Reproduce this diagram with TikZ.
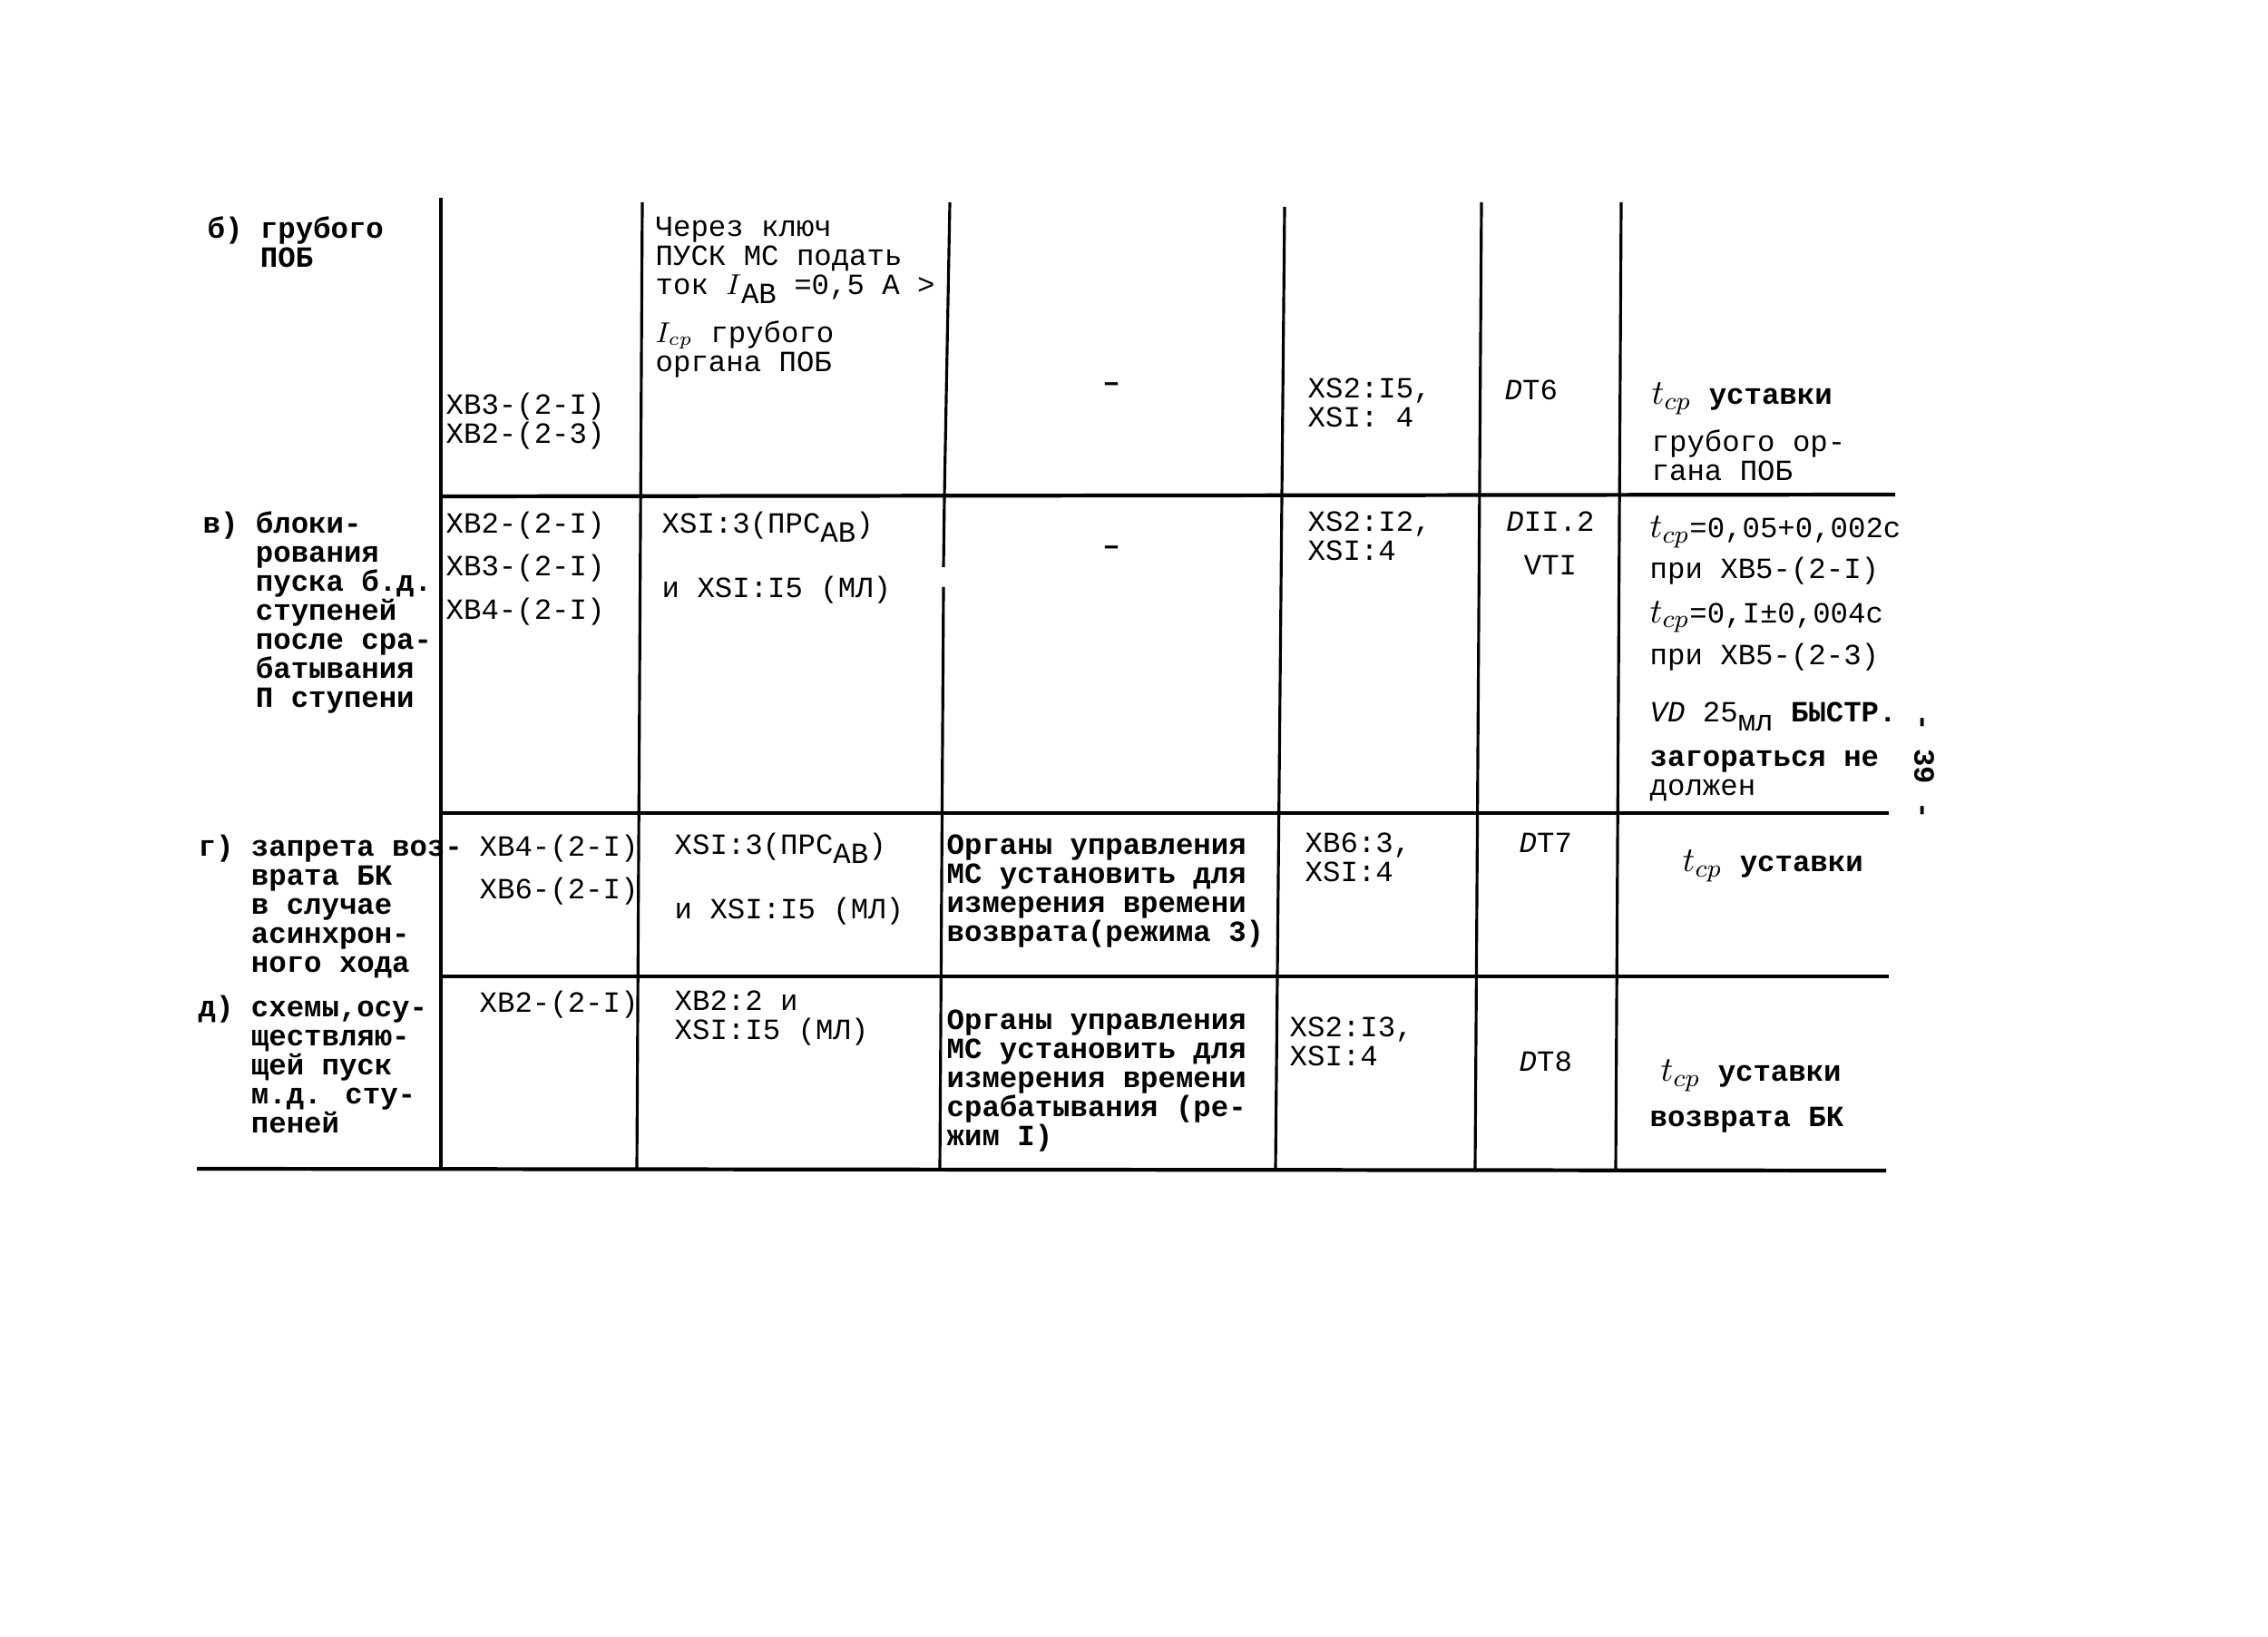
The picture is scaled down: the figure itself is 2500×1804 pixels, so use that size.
\documentclass[tikz,border=0pt]{standalone}
\usepackage{fontspec}
\usepackage{amsmath}
\newfontfamily\tw{Liberation Mono}
\usetikzlibrary{positioning}

\newcommand\twsize{\fontsize{9.2pt}{9.1pt}\selectfont}
\newcommand\lowtx[1]{\raisebox{-0.6ex}{#1}}
\newcommand\tcp{{\fontsize{11pt}{9pt}\selectfont$t_{cp}$}}
\newcommand\Dit{{\itshape D}}

\begin{document}
\begin{tikzpicture}[x=0.01cm,y=-0.01cm,
    txt/.style={anchor=north west,inner sep=0pt,align=left,font=\tw\twsize},
    btxt/.style={txt,font=\tw\twsize\bfseries},
    vrule/.style={line width=0.9pt},
    hrule/.style={line width=1.2pt}]
  \useasboundingbox (0,0) rectangle (2500,1804);

  % vertical rules
  \draw[vrule] (486,218) -- (486,1288);
  \draw[vrule] (708,223) -- (702,1288);
  \draw[vrule] (1047,223) -- (1041,547) -- (1040,625);
  \draw[vrule] (1040,647) -- (1036,1288);
  \draw[vrule] (1416,228) -- (1406,1288);
  \draw[vrule] (1633,223) -- (1626,1288);
  \draw[vrule] (1787,223) -- (1781,1288);

  % horizontal rules
  \draw[hrule] (486,547) -- (2089,545);
  \draw[hrule] (486,896) -- (2082,896);
  \draw[hrule] (486,1076) -- (2082,1076);
  \draw[hrule] (217,1288) -- (2079,1290);

  % row b
  \node[btxt] (b1) at (228,238) {б) грубого\\\phantom{б) }ПОБ};
  \node[txt] (b2) at (491,432) {XB3-(2-I)\\XB2-(2-3)};
  \node[txt] (b3) at (722,238) {Через ключ\\ПУСК МС подать\\ток $I$\lowtx{AB} =0,5 A >\\[4.5pt]$I_{cp}$ грубого\\органа ПОБ};
  \node[btxt,anchor=center] (b4) at (1225,427) {–};
  \node[txt] (b5) at (1441,416) {XS2:I5,\\XSI: 4};
  \node[txt] (b6) at (1658,418) {\Dit T6};
  \node[txt] (b7) at (1820,421) {\tcp\ {\bfseries уставки}\\[4pt]грубого ор-\\гана ПОБ};

  % row v
  \node[btxt] (v1) at (223,563) {в) блоки-\\\phantom{в) }рования\\\phantom{в) }пуска б.д.\\\phantom{в) }ступеней\\\phantom{в) }после сра-\\\phantom{в) }батывания\\\phantom{в) }П ступени};
  \node[txt] (v2) at (491,563) {XB2-(2-I)\\[4.5pt]XB3-(2-I)\\[4.5pt]XB4-(2-I)};
  \node[txt] (v3) at (729,563) {XSI:3(ПРС\lowtx{AB})\\[9.6pt]и XSI:I5 (МЛ)};
  \node[btxt,anchor=center] (v4) at (1225,607) {–};
  \node[txt] (v5) at (1441,563) {XS2:I2,\\XSI:4};
  \node[txt,anchor=north,align=center] (v6) at (1709,563) {\Dit II.2\\[4.5pt]VTI};
  \node[txt] (v7) at (1818,568) {\tcp=0,05+0,002с\\[1.9pt]при XB5-(2-I)\\[4.8pt]\tcp=0,I±0,004с\\[2.2pt]при XB5-(2-3)\\[8.8pt]{\itshape VD} 25\lowtx{мл} {\bfseries БЫСТР.}\\[5pt]{\bfseries загораться не}\\должен};
  \node[btxt,anchor=center,rotate=-90] (pg) at (2121,845) {- 39 -};

  % row g
  \node[btxt] (g1) at (218,919) {г) запрета воз-\\\phantom{г) }врата БК\\\phantom{г) }в случае\\\phantom{г) }асинхрон-\\\phantom{г) }ного хода};
  \node[txt] (g2) at (528,919) {XB4-(2-I)\\[4.5pt]XB6-(2-I)};
  \node[txt] (g3) at (743,917) {XSI:3(ПРС\lowtx{AB})\\[9.6pt]и XSI:I5 (МЛ)};
  \node[btxt] (g4) at (1043,919) {Органы управления\\МС установить для\\измерения времени\\возврата(режима 3)};
  \node[txt] (g5) at (1438,917) {XB6:3,\\XSI:4};
  \node[txt] (g6) at (1674,917) {\Dit T7};
  \node[txt] (g7) at (1854,936) {\tcp\ {\bfseries уставки}};

  % row d
  \node[btxt] (d1) at (218,1096) {д) схемы,осу-\\\phantom{д) }ществляю-\\\phantom{д) }щей пуск\\\phantom{д) }м.д. сту-\\\phantom{д) }пеней};
  \node[txt] (d2) at (528,1091) {XB2-(2-I)};
  \node[txt] (d3) at (743,1091) {XB2:2 и\\XSI:I5 (МЛ)};
  \node[btxt] (d4) at (1043,1112) {Органы управления\\МС установить для\\измерения времени\\срабатывания (ре-\\жим I)};
  \node[txt] (d5) at (1421,1120) {XS2:I3,\\XSI:4};
  \node[txt] (d6) at (1674,1158) {\Dit T8};
  \node[txt] (d7) at (1818,1167) {\hspace{3.4pt}\tcp\ {\bfseries уставки}\\[4pt]{\bfseries возврата БК}};
\end{tikzpicture}
\end{document}
